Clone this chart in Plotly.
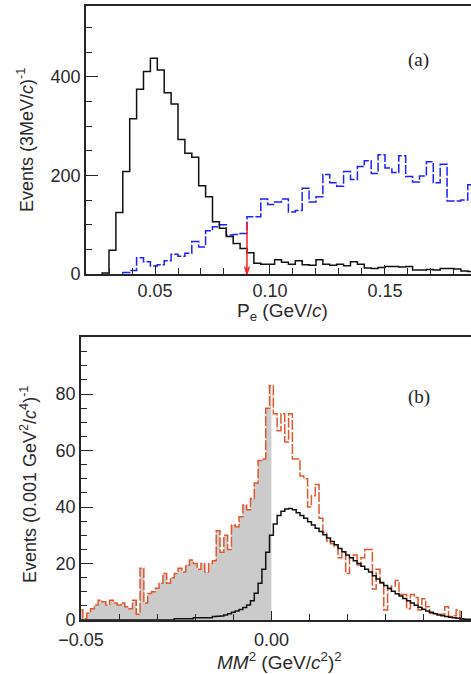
import plotly.graph_objects as go

W, H = 471, 674

# ---------------- panel (a): electron momentum ----------------
pe_bin_width = 0.003
pe_black_start = 0.027
pe_black_counts = [2, 48, 125, 208, 315, 375, 411, 438, 414, 368, 345, 273, 245, 237, 179, 157,
                   106, 93, 76, 62, 52, 43, 22, 20, 20, 29, 24, 20, 27, 19, 18, 29, 20, 18, 20,
                   17, 25, 20, 12, 11, 13, 15, 15, 14, 15, 8, 8, 9, 8, 11, 11, 10, 6, 5]
pe_blue_start = 0.036
pe_blue_counts = [3, 7, 33, 25, 16, 19, 27, 40, 36, 42, 66, 55, 88, 96, 100, 79, 80, 82,
                  116, 116, 152, 141, 146, 152, 126, 129, 174, 146, 157, 202, 185, 178, 208,
                  192, 218, 230, 204, 242, 215, 206, 240, 198, 187, 199, 228, 185, 223, 148,
                  148, 150, 181]
pe_cut = 0.090
pe_arrow_top = 105
pe_xticks = [0.05, 0.10, 0.15]
pe_xticklabels = ["0.05", "0.10", "0.15"]
pe_yticks = [0, 200, 400]
pe_yticklabels = ["0", "200", "400"]

# ---------------- panel (b): missing mass squared ----------------
mm_bin_width = 0.001
mm_first_center = -0.050
mm_data_counts = [3.5, 0.5, 2.4, 4, 5.3, 7, 6.5, 5.3, 7, 6, 5.3, 6, 4.7, 4, 7, 2, 18.3, 6, 9.4, 10,
                  11.2, 13, 16.5, 13, 15, 16.5, 18.3, 17, 19.5, 21.2, 20, 18, 20, 17, 20, 21, 31.6,
                  24, 30, 25, 33.6, 33, 36.6, 40.7, 39, 43, 48.5, 56.5, 57, 75, 83, 73, 67, 73, 63,
                  73, 57, 57, 51, 50, 40, 44, 48, 36, 31, 28, 27, 26, 22, 24, 16.5, 22, 23, 19.5,
                  22, 25, 25, 11, 18, 13, 3.5, 11, 12, 14, 9, 9, 4, 9, 8, 3.5, 7.5, 4.7, 2.4, 2.4,
                  2, 2, 4.7, 1.2, 1.5, 3.5, 0, 0, 0]
mm_signal_counts = [0] * 25 + [0.4] * 5 + [0.8] * 5 + [
    1.2, 1.3, 1.4, 1.8, 2.2, 2.7, 3.2, 3.7, 4.4, 5.3, 6.8, 9.5, 13, 18, 24, 30, 34, 37, 38.5,
    39.3, 39.5, 39, 38, 37, 36, 34.8, 33.6, 32.5, 31.3, 30.2, 29, 27.8, 26.6, 25.3, 24.2, 23,
    22, 21, 20, 19, 18, 17, 15.7, 14.5, 13.3, 12.2, 11.2, 10.2, 9.3, 8.5, 7.6, 6.8, 6, 5.2,
    4.5, 3.8, 3.2, 2.7, 2.2, 1.8, 1.5, 1.2, 1, 0.8, 0.6, 0.4, 0.3, 0.3]
mm_fill_upper = 0.0
mm_xticks = [-0.05, 0.0, 0.05]
mm_xticklabels = ["\u22120.05", "0.00", "0.05"]
mm_yticks = [0, 20, 40, 60, 80]
mm_yticklabels = ["0", "20", "40", "60", "80"]


def steps(lo, width, counts):
    xs, ys = [lo], [0]
    for i, c in enumerate(counts):
        xs.append(lo + i * width)
        ys.append(c)
    end = lo + len(counts) * width
    xs += [end, end]
    ys += [counts[-1], 0]
    return xs, ys


FONT = "Liberation Sans, Arial, sans-serif"
TXT = "#2a2a2a"
AX = "#262626"

fig = go.Figure()

# panel (a)
bx, by = steps(pe_blue_start, pe_bin_width, pe_blue_counts)
fig.add_trace(go.Scatter(x=bx, y=by, mode="lines", line_shape="hv",
                         line=dict(color="#1f1fff", width=1.5, dash="9px,2px"),
                         xaxis="x", yaxis="y", showlegend=False, hoverinfo="skip"))
kx, ky = steps(pe_black_start, pe_bin_width, pe_black_counts)
fig.add_trace(go.Scatter(x=kx, y=ky, mode="lines", line_shape="hv",
                         line=dict(color="#111111", width=1.5),
                         xaxis="x", yaxis="y", showlegend=False, hoverinfo="skip"))

# panel (b)
mm_lo = mm_first_center - mm_bin_width / 2
n_fill = int(round((mm_fill_upper - mm_lo) / mm_bin_width + 0.5))
gx, gy = steps(mm_lo, mm_bin_width, mm_data_counts[:n_fill])
gx = [min(v, mm_fill_upper) for v in gx]
fig.add_trace(go.Scatter(x=gx, y=gy, mode="lines", line_shape="hv", fill="tozeroy",
                         fillcolor="#cbcbcb", line=dict(width=0, color="#cbcbcb"),
                         xaxis="x2", yaxis="y2", showlegend=False, hoverinfo="skip"))
ox, oy = steps(mm_lo, mm_bin_width, mm_data_counts)
fig.add_trace(go.Scatter(x=ox, y=oy, mode="lines", line_shape="hv",
                         line=dict(color="#e4572e", width=1.5, dash="10px,2px"),
                         xaxis="x2", yaxis="y2", showlegend=False, hoverinfo="skip"))
sx, sy = steps(mm_lo, mm_bin_width, mm_signal_counts)
fig.add_trace(go.Scatter(x=sx, y=sy, mode="lines", line_shape="hv",
                         line=dict(color="#111111", width=1.5),
                         xaxis="x2", yaxis="y2", showlegend=False, hoverinfo="skip"))

tickfont = dict(family=FONT, size=18, color=TXT)


def xax(domain, rng, vals, labels, minor_dt, anchor, standoff=0):
    return dict(domain=domain, range=rng, anchor=anchor, tickmode="array", tickvals=vals,
                ticktext=labels, ticks="inside", ticklen=9, tickwidth=1.3, tickcolor=AX,
                minor=dict(tickmode="linear", tick0=0, dtick=minor_dt, ticks="inside",
                           ticklen=6, tickwidth=1.2, tickcolor=AX),
                showline=True, linecolor=AX, linewidth=1.6, mirror=True, showgrid=False,
                zeroline=False, tickfont=tickfont, fixedrange=True, automargin=False,
                ticklabelstandoff=standoff)


def yax(domain, rng, vals, labels, minor_dt, anchor):
    return dict(domain=domain, range=rng, anchor=anchor, tickmode="array", tickvals=vals,
                ticktext=labels, ticks="inside", ticklen=12, tickwidth=1.3, tickcolor=AX,
                minor=dict(tickmode="linear", tick0=0, dtick=minor_dt, ticks="inside",
                           ticklen=6, tickwidth=1.2, tickcolor=AX),
                showline=True, linecolor=AX, linewidth=1.6, mirror=False, showgrid=False,
                zeroline=False, tickfont=tickfont, fixedrange=True, automargin=False)


top_dom_y = [1 - 274 / H, 1 - 6 / H]
bot_dom_y = [1 - 620 / H, 1 - 337 / H]

fig.update_layout(
    width=W, height=H, margin=dict(l=0, r=0, t=0, b=0, autoexpand=False),
    paper_bgcolor="white", plot_bgcolor="white",
    xaxis=xax([86 / W, 1], [0.02, 0.1874], pe_xticks, pe_xticklabels, 0.01, "y"),
    yaxis=yax(top_dom_y, [0, 544], pe_yticks, pe_yticklabels, 50, "x"),
    xaxis2=xax([81 / W, 1], [-0.05, 0.0524], mm_xticks, mm_xticklabels, 0.01, "y2", 3),
    yaxis2=yax(bot_dom_y, [0, 100.2], mm_yticks, mm_yticklabels, 5, "x2"),
)

# red cut arrow in panel (a)
fig.add_shape(type="line", xref="x", yref="y", x0=pe_cut, x1=pe_cut, y0=pe_arrow_top, y1=0,
              line=dict(color="#ff2020", width=1.5))
fig.add_shape(type="path", xref="x", yref="y",
              path=f"M {pe_cut - 0.001} 15 L {pe_cut} 0 L {pe_cut + 0.001} 15",
              line=dict(color="#ff2020", width=1.5))

ann = []
ann.append(dict(text="Events (3MeV/<i>c</i>)<sup>-1</sup>", x=25 / W, y=1 - 140 / H,
                xref="paper", yref="paper", textangle=-90, showarrow=False,
                font=dict(family=FONT, size=18, color=TXT), xanchor="center", yanchor="middle"))
ann.append(dict(text="P<sub>e</sub> (GeV/<i>c</i>)", x=282 / W, y=1 - 312 / H,
                xref="paper", yref="paper", showarrow=False,
                font=dict(family=FONT, size=19, color=TXT), xanchor="center", yanchor="middle"))
ann.append(dict(text="(a)", x=418 / W, y=1 - 60 / H, xref="paper", yref="paper",
                showarrow=False, font=dict(family="Liberation Serif, Times New Roman, serif",
                                           size=19, color="#222222"),
                xanchor="center", yanchor="middle"))
ann.append(dict(text="Events (0.001 GeV<sup>2</sup>/<i>c</i><sup>4</sup>)<sup>-1</sup>",
                x=28 / W, y=1 - 485 / H, xref="paper", yref="paper", textangle=-90,
                showarrow=False, font=dict(family=FONT, size=18, color=TXT),
                xanchor="center", yanchor="middle"))
ann.append(dict(text="<i>MM</i><sup>2</sup> (GeV/<i>c</i><sup>2</sup>)<sup>2</sup>",
                x=279 / W, y=1 - 661 / H, xref="paper", yref="paper", showarrow=False,
                font=dict(family=FONT, size=19, color=TXT), xanchor="center", yanchor="middle"))
ann.append(dict(text="(b)", x=419 / W, y=1 - 397 / H, xref="paper", yref="paper",
                showarrow=False, font=dict(family="Liberation Serif, Times New Roman, serif",
                                           size=19, color="#222222"),
                xanchor="center", yanchor="middle"))
fig.update_layout(annotations=ann)

fig.write_html("out.html")
